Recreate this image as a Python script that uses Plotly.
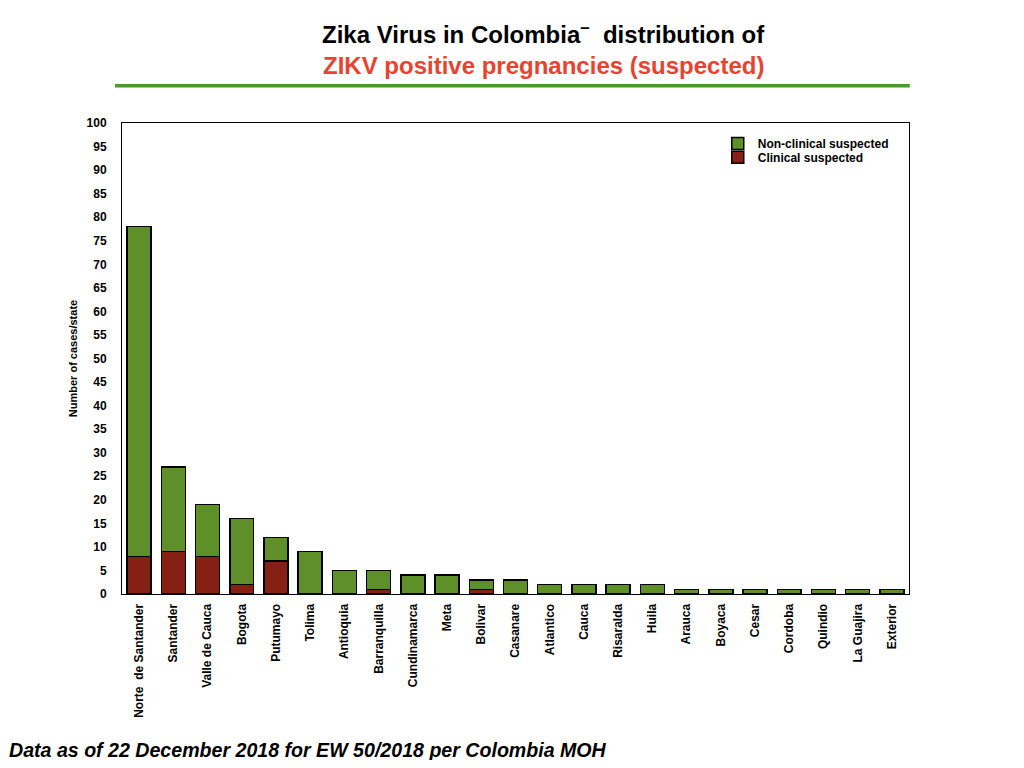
import plotly.graph_objects as go

states = ["Norte  de Santander", "Santander", "Valle de Cauca", "Bogota", "Putumayo",
          "Tolima", "Antioquia", "Barranquilla", "Cundinamarca", "Meta", "Bolivar",
          "Casanare", "Atlantico", "Cauca", "Risaralda", "Huila", "Arauca", "Boyaca",
          "Cesar", "Cordoba", "Quindio", "La Guajira", "Exterior"]
clinical = [8, 9, 8, 2, 7, 0, 0, 1, 0, 0, 1, 0, 0, 0, 0, 0, 0, 0, 0, 0, 0, 0, 0]
non_clinical = [70, 18, 11, 14, 5, 9, 5, 4, 4, 4, 2, 3, 2, 2, 2, 2, 1, 1, 1, 1, 1, 1, 1]

FONT = "Liberation Sans, Arial, Helvetica, sans-serif"
GREEN = "#5e8f29"
RED = "#852015"

fig = go.Figure()
fig.add_trace(go.Bar(x=states, y=clinical, name="Clinical suspected", legend="legend2",
                     marker=dict(color=RED, line=dict(color="black", width=1.5))))
fig.add_trace(go.Bar(x=states, y=non_clinical, name="Non-clinical suspected", legend="legend",
                     marker=dict(color=GREEN, line=dict(color="black", width=1.5))))

legend_style = dict(xanchor="left", yanchor="top", bgcolor="rgba(0,0,0,0)",
                    font=dict(size=12, family=FONT, weight="bold"), itemwidth=30)

fig.update_layout(
    barmode="stack",
    bargap=0.3,
    width=1008, height=752,
    margin=dict(l=114, r=107, t=115, b=166),
    plot_bgcolor="white", paper_bgcolor="white",
    font=dict(family=FONT, size=12, color="black"),
    showlegend=True,
    legend=dict(x=0.757, y=0.987, **legend_style),
    legend2=dict(x=0.757, y=0.958, **legend_style),
    xaxis=dict(tickangle=-90, showline=True, linecolor="black", linewidth=1,
               mirror=True, ticks="", ticklabelstandoff=4,
               tickfont=dict(size=12, weight="bold")),
    yaxis=dict(range=[0, 100], dtick=5, showgrid=False, zeroline=False,
               showline=True, linecolor="black", linewidth=1, mirror=True,
               ticks="", ticklabelstandoff=12, tickfont=dict(size=12, weight="bold"),
               title=dict(text="Number of cases/state", standoff=6,
                          font=dict(size=11, weight="bold"))),
)

fig.add_annotation(text="Zika Virus in Colombia<sup>–</sup>  distribution of",
                   xref="paper", yref="paper", x=0.536, y=1.191, xanchor="center",
                   yanchor="middle", showarrow=False,
                   font=dict(size=24, family=FONT, color="black", weight="bold"))
fig.add_annotation(text="ZIKV positive pregnancies (suspected)",
                   xref="paper", yref="paper", x=0.536, y=1.123, xanchor="center",
                   yanchor="middle", showarrow=False,
                   font=dict(size=24, family=FONT, color="#e8432f", weight="bold"))
fig.add_shape(type="line", xref="paper", yref="paper", x0=-0.009, x1=1.001,
              y0=1.079, y1=1.079, line=dict(color="#4a9a2e", width=3.5))
fig.add_annotation(text="<i>Data as of 22 December 2018 for EW 50/2018 per Colombia MOH</i>",
                   xref="paper", yref="paper", x=-0.1455, y=-0.331, xanchor="left",
                   yanchor="middle", showarrow=False,
                   font=dict(size=19.6, family=FONT, color="black", weight="bold"))

fig.write_html("out.html")
